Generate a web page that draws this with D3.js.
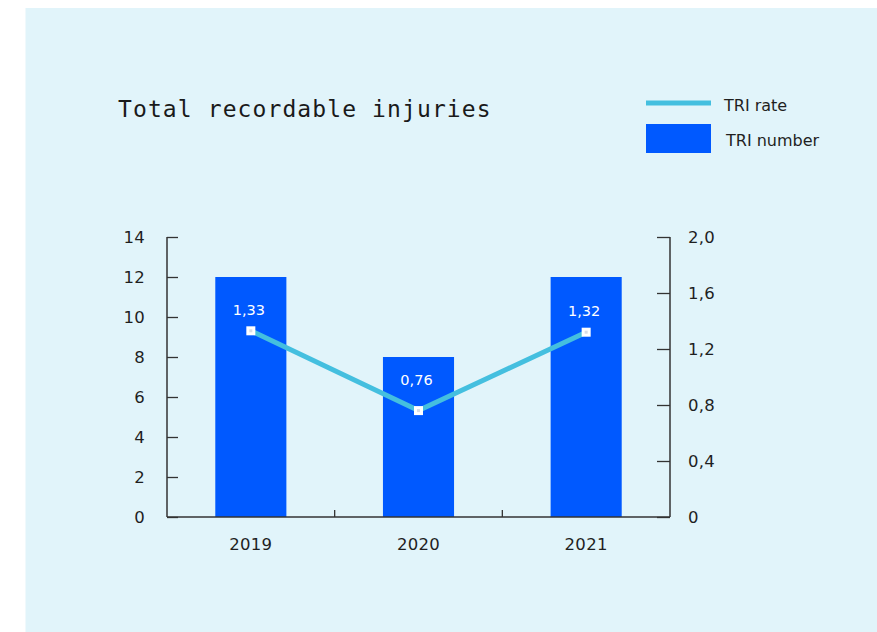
<!DOCTYPE html>
<html>
<head>
<meta charset="utf-8">
<script src="https://cdn.jsdelivr.net/npm/d3@7"></script>
<style>
  html, body { margin: 0; padding: 0; background: #ffffff; }
  svg { display: block; }
</style>
</head>
<body>
<svg id="chart" width="877" height="632"></svg>
<script>
// Total recordable injuries: count (bars) and rate (line)
const years = ["2019", "2020", "2021"];
const triNumber = [12, 8, 12];
const triRate = [1.33, 0.76, 1.32];
const rateLabels = ["1,33", "0,76", "1,32"];
const leftTicks = [0, 2, 4, 6, 8, 10, 12, 14];
const rightTicks = [0, 0.4, 0.8, 1.2, 1.6, 2.0];
const rightTickLabels = ["0", "0,4", "0,8", "1,2", "1,6", "2,0"];

const svg = d3.select("#chart");
const sans = "'DejaVu Sans', 'Noto Sans', sans-serif";
const textColor = "#1f1f1f";

// panel background
svg.append("rect").attr("x", 25.5).attr("y", 8).attr("width", 877 - 25.5).attr("height", 632 - 8)
  .attr("fill", "#e1f4fa");

// title
svg.append("text").attr("x", 118).attr("y", 117)
  .attr("font-family", "'DejaVu Sans Mono', 'Liberation Mono', monospace")
  .attr("font-size", 23).attr("letter-spacing", 1.1).attr("fill", "#1a1a1a")
  .text("Total recordable injuries");

// legend
const legend = svg.append("g");
legend.append("line").attr("x1", 646).attr("x2", 711).attr("y1", 103).attr("y2", 103)
  .attr("stroke", "#44bfdf").attr("stroke-width", 5);
legend.append("text").attr("x", 724).attr("y", 111).attr("font-family", sans)
  .attr("font-size", 16).attr("fill", textColor).text("TRI rate");
legend.append("rect").attr("x", 646).attr("y", 124).attr("width", 65).attr("height", 29)
  .attr("fill", "#0059ff");
legend.append("text").attr("x", 726).attr("y", 146).attr("font-family", sans)
  .attr("font-size", 16).attr("fill", textColor).text("TRI number");

// scales
const x0 = 167, x1 = 670, yTop = 237, yBot = 517;
const x = d3.scaleBand().domain(years).range([x0, x1]).padding(0);
const y = d3.scaleLinear().domain([0, 14]).range([yBot, yTop]);
const yR = d3.scaleLinear().domain([0, 2]).range([yBot, yTop]);
const barW = x.bandwidth() * 0.424;

// bars
svg.append("g").selectAll("rect").data(years).join("rect")
  .attr("x", d => x(d) + x.bandwidth() / 2 - barW / 2)
  .attr("y", (d, i) => y(triNumber[i]))
  .attr("width", barW)
  .attr("height", (d, i) => yBot - y(triNumber[i]))
  .attr("fill", "#0059ff");

const axisFont = { size: 16.5, spacing: 0.3 };

// left axis
const leftAxis = d3.axisRight(y).tickValues(leftTicks).tickSize(11).tickFormat("");
const gl = svg.append("g").attr("transform", `translate(${x0},0)`).call(leftAxis);
gl.select(".domain").remove();
gl.selectAll(".tick line").attr("stroke", "#333").attr("stroke-width", 1.3);
gl.append("line").attr("x1", 0).attr("x2", 0).attr("y1", yTop).attr("y2", yBot)
  .attr("stroke", "#333").attr("stroke-width", 1.5);
svg.append("g").selectAll("text").data(leftTicks).join("text")
  .attr("x", 145).attr("y", d => y(d)).attr("dy", "0.36em")
  .attr("text-anchor", "end").attr("font-family", sans).attr("font-size", axisFont.size)
  .attr("letter-spacing", axisFont.spacing).attr("fill", textColor).text(d => d);

// right axis
const rightAxis = d3.axisLeft(yR).tickValues(rightTicks).tickSize(13).tickFormat("");
const gr = svg.append("g").attr("transform", `translate(${x1},0)`).call(rightAxis);
gr.select(".domain").remove();
gr.selectAll(".tick line").attr("stroke", "#333").attr("stroke-width", 1.3);
gr.append("line").attr("x1", 0).attr("x2", 0).attr("y1", yTop).attr("y2", yBot)
  .attr("stroke", "#333").attr("stroke-width", 1.5);
svg.append("g").selectAll("text").data(rightTicks).join("text")
  .attr("x", 688).attr("y", d => yR(d)).attr("dy", "0.36em")
  .attr("text-anchor", "start").attr("font-family", sans).attr("font-size", axisFont.size)
  .attr("letter-spacing", axisFont.spacing).attr("fill", textColor).text((d, i) => rightTickLabels[i]);

// bottom axis: ticks at band boundaries, labels centred in bands
const gb = svg.append("g");
gb.append("line").attr("x1", x0).attr("x2", x1).attr("y1", yBot).attr("y2", yBot)
  .attr("stroke", "#333").attr("stroke-width", 1.5);
gb.selectAll("line.sep").data(years.slice(1)).join("line").attr("class", "sep")
  .attr("x1", d => x(d)).attr("x2", d => x(d)).attr("y1", yBot).attr("y2", yBot - 7)
  .attr("stroke", "#333").attr("stroke-width", 1.3);
gb.selectAll("text").data(years).join("text")
  .attr("x", d => x(d) + x.bandwidth() / 2).attr("y", 550)
  .attr("text-anchor", "middle").attr("font-family", sans).attr("font-size", axisFont.size)
  .attr("letter-spacing", axisFont.spacing).attr("fill", textColor).text(d => d);

// rate line
const cx = d => x(d) + x.bandwidth() / 2;
const line = d3.line().x((d, i) => cx(years[i])).y(d => yR(d));
svg.append("path").datum(triRate).attr("d", line)
  .attr("fill", "none").attr("stroke", "#44bfdf").attr("stroke-width", 5)
  .attr("stroke-linejoin", "miter");

// markers
const mk = svg.append("g").selectAll("g").data(triRate).join("g")
  .attr("transform", (d, i) => `translate(${cx(years[i])},${yR(d)})`);
mk.append("rect").attr("x", -4.5).attr("y", -4.5).attr("width", 9).attr("height", 9).attr("fill", "#ffffff");
mk.append("rect").attr("x", -1.5).attr("y", -1.5).attr("width", 3).attr("height", 3).attr("fill", "#d8dde6");

// rate value labels; the low middle point gets a little more room above it
const labelLift = (d, i) => (i === 1 ? 31 : 21);
svg.append("g").selectAll("text").data(triRate).join("text")
  .attr("x", (d, i) => cx(years[i]) - 2).attr("y", (d, i) => yR(d) - labelLift(d, i)).attr("dy", "0.36em")
  .attr("text-anchor", "middle").attr("font-family", sans).attr("font-size", 14.5)
  .attr("fill", "#ffffff").text((d, i) => rateLabels[i]);
</script>
</body>
</html>
